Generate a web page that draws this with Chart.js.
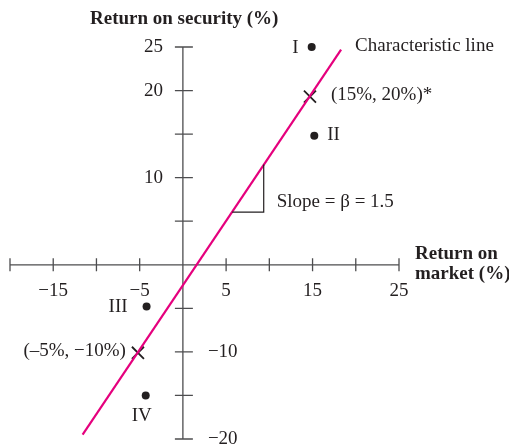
<!DOCTYPE html>
<html>
<head>
<meta charset="utf-8">
<script src="https://cdn.jsdelivr.net/npm/chart.js@4.4.1/dist/chart.umd.min.js"></script>
<style>
  html, body { margin: 0; padding: 0; background: #fff; }
  #wrap { width: 509px; height: 444px; position: relative; }
</style>
</head>
<body>
<div id="wrap"><canvas id="chart"></canvas></div>
<script>
'use strict';

// axis ticks and labels
const xTicks = [-20, -15, -10, -5, 0, 5, 10, 15, 20, 25];
const xTickLabels = [-15, -5, 5, 15, 25];
const yTicks = [-20, -15, -10, -5, 0, 5, 10, 15, 20, 25];
const yLabelsLeft = [25, 20, 10];
const yLabelsRight = [-10, -20];

// characteristic line (slope about 1.5)
const lineX = [-11.6, 18.3];
const lineY = [-19.5, 24.7];

// security returns
const dotNames = ['I', 'II', 'III', 'IV'];
const dotX = [14.9, 15.2, -4.2, -4.3];
const dotY = [25, 14.8, -4.8, -15];

// the two observed points on the line
const crossNames = ['(15%, 20%)*', '(–5%, −10%)'];
const crossX = [14.7, -5.2];
const crossY = [19.3, -10.1];

// slope triangle
const triX = [5.7, 9.35, 9.35];
const triY = [6.05, 6.05, 11.5];

const serif = '"Liberation Serif", "Times New Roman", serif';
const ink = '#231f20';

function toPts(xs, ys) {
  return xs.map((x, i) => ({ x: x, y: ys[i] }));
}

const axesPlugin = {
  id: 'axesPlugin',
  beforeDatasetsDraw(chart) {
    const c = chart.ctx;
    const sx = chart.scales.x, sy = chart.scales.y;
    const x0 = sx.getPixelForValue(0), y0 = sy.getPixelForValue(0);
    c.save();
    c.strokeStyle = '#4d4d4f';
    c.lineWidth = 1.3;
    c.beginPath();
    c.moveTo(sx.getPixelForValue(xTicks[0]), y0);
    c.lineTo(sx.getPixelForValue(xTicks[xTicks.length - 1]), y0);
    c.moveTo(x0, sy.getPixelForValue(yTicks[0]));
    c.lineTo(x0, sy.getPixelForValue(yTicks[yTicks.length - 1]));
    xTicks.forEach(v => {
      if (v === 0) return;
      const px = sx.getPixelForValue(v);
      c.moveTo(px, y0 - 6.5);
      c.lineTo(px, y0 + 6.5);
    });
    yTicks.forEach(v => {
      if (v === 0) return;
      const py = sy.getPixelForValue(v);
      c.moveTo(x0 - 8, py);
      c.lineTo(x0 + 10, py);
    });
    c.stroke();

    c.fillStyle = ink;
    c.font = '19px ' + serif;
    c.textAlign = 'center';
    c.textBaseline = 'alphabetic';
    xTickLabels.forEach(v => {
      c.fillText(String(v).replace('-', '−'), sx.getPixelForValue(v), y0 + 31);
    });
    c.textBaseline = 'middle';
    c.textAlign = 'right';
    yLabelsLeft.forEach(v => {
      c.fillText(String(v), x0 - 20, sy.getPixelForValue(v));
    });
    c.textAlign = 'left';
    yLabelsRight.forEach(v => {
      c.fillText(String(v).replace('-', '−'), x0 + 25, sy.getPixelForValue(v));
    });

    // axis titles
    c.font = 'bold 19px ' + serif;
    c.textBaseline = 'alphabetic';
    c.textAlign = 'left';
    c.fillText('Return on security (%)', 90, 24);
    c.fillText('Return on', 415, y0 - 6);
    c.fillText('market (%)', 415, y0 + 14);
    c.restore();
  },
  afterDatasetsDraw(chart) {
    const c = chart.ctx;
    const sx = chart.scales.x, sy = chart.scales.y;
    c.save();
    c.fillStyle = ink;
    c.font = '19px ' + serif;
    c.textBaseline = 'middle';

    // point names
    const dp = dotX.map((x, i) => [sx.getPixelForValue(x), sy.getPixelForValue(dotY[i])]);
    c.textAlign = 'right';
    c.fillText(dotNames[0], dp[0][0] - 13, dp[0][1] + 1);
    c.textAlign = 'left';
    c.fillText(dotNames[1], dp[1][0] + 13, dp[1][1] - 1);
    c.textAlign = 'right';
    c.fillText(dotNames[2], dp[2][0] - 19, dp[2][1]);
    c.textAlign = 'center';
    c.fillText(dotNames[3], dp[3][0] - 4, dp[3][1] + 21);

    // observed point labels
    const cp = crossX.map((x, i) => [sx.getPixelForValue(x), sy.getPixelForValue(crossY[i])]);
    c.textAlign = 'left';
    c.fillText(crossNames[0], cp[0][0] + 21, cp[0][1] - 2);
    c.textAlign = 'right';
    c.fillText(crossNames[1], cp[1][0] - 12, cp[1][1] - 2);

    // line label
    const lx = sx.getPixelForValue(lineX[1]), ly = sy.getPixelForValue(lineY[1]);
    c.textAlign = 'left';
    c.fillText('Characteristic line', lx + 14, ly - 4);

    // slope label
    const tx = sx.getPixelForValue(triX[1]), ty = sy.getPixelForValue(triY[1]);
    c.fillText('Slope = β = 1.5', tx + 13, ty - 10);
    c.restore();
  }
};

const ctx = document.getElementById('chart').getContext('2d');

const chartObj = {
  type: 'scatter',
  data: {
    datasets: [{
      label: 'Slope',
      data: toPts(triX, triY),
      showLine: true,
      borderColor: ink,
      borderWidth: 1.2,
      pointRadius: 0,
      fill: false
    }, {
      label: 'Characteristic line',
      data: toPts(lineX, lineY),
      showLine: true,
      borderColor: '#e5007d',
      borderWidth: 2.2,
      pointRadius: 0,
      fill: false
    }, {
      label: 'Securities',
      data: toPts(dotX, dotY),
      pointRadius: 4,
      pointBackgroundColor: ink,
      pointBorderColor: ink,
      pointBorderWidth: 0
    }, {
      label: 'Observed',
      data: toPts(crossX, crossY),
      pointStyle: 'crossRot',
      pointRadius: 8.5,
      pointBorderColor: ink,
      pointBorderWidth: 1.8
    }]
  },
  options: {
    responsive: true,
    maintainAspectRatio: false,
    animation: false,
    clip: false,
    layout: {
      autoPadding: false,
      padding: { left: 10, right: 110, top: 47, bottom: 5 }
    },
    plugins: {
      legend: { display: false },
      tooltip: { enabled: false }
    },
    scales: {
      x: { type: 'linear', min: -20, max: 25, display: false },
      y: { type: 'linear', min: -20, max: 25, display: false }
    }
  },
  plugins: [axesPlugin]
};

const myChart = new Chart(ctx, chartObj);
</script>
</body>
</html>
